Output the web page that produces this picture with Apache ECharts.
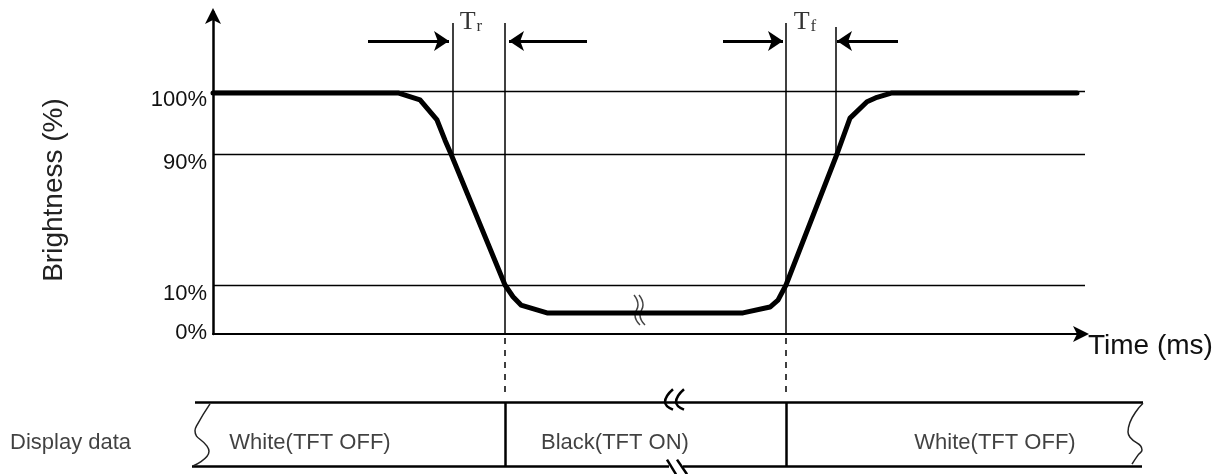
<!DOCTYPE html>
<html>
<head>
<meta charset="utf-8">
<script src="https://cdn.jsdelivr.net/npm/echarts@6/dist/echarts.min.js"></script>
<style>
  html, body { margin: 0; padding: 0; background: #fff; }
  #chart { width: 1218px; height: 474px; }
</style>
</head>
<body>
<div id="chart"></div>
<script>
var myChart = echarts.init(document.getElementById('chart'));

// brightness response (time in schematic units, brightness in %)
var timeX = [0, 185, 207, 224, 232, 238, 292, 300, 308, 334, 530, 557, 565, 573, 624, 637, 654, 664, 679, 864];
var brightnessPct = [99.7, 99.7, 98.6, 95.4, 92.2, 90, 10, 7.6, 5.9, 4.3, 4.3, 5.5, 6.9, 10, 90, 95.7, 98.3, 99.0, 99.7, 99.7];

// the brightness axis is schematic (not linear): each level has its place on the drawing
var levelPct = [0, 10, 90, 100];
var levelPos = [0, 49, 180, 243];
var yTickLabels = ['0%', '10%', '90%', '100%'];

// Tr / Tf edges on the time axis
var trEdges = [240, 292];
var tfEdges = [573, 623];
var timeNames = [['T', 'r'], ['T', 'f']];

// display data row
var segEdges = [292, 573];
var segNames = ['White(TFT OFF)', 'Black(TFT ON)', 'White(TFT OFF)'];
var rowName = 'Display data';

var xEnd = 872;
var yTop = 322;
var font = '"Liberation Sans", Arial, sans-serif';

function toPos(p) {
	for (var i = 1; i < levelPct.length; i++) {
		if (p <= levelPct[i]) {
			var f = (p - levelPct[i - 1]) / (levelPct[i] - levelPct[i - 1]);
			return levelPos[i - 1] + f * (levelPos[i] - levelPos[i - 1]);
		}
	}
	return levelPos[levelPos.length - 1];
}

var curve = [];
for (var i = 0; i < timeX.length; i++) {
	curve.push([timeX[i], toPos(brightnessPct[i])]);
}

var levelLines = [];
for (var i = 1; i < levelPct.length; i++) {
	levelLines.push({ coords: [[0, toPos(levelPct[i])], [xEnd, toPos(levelPct[i])]] });
}

var edgeTop = 311;
var solidEdges = [
	{ coords: [[trEdges[0], edgeTop], [trEdges[0], toPos(90)]] },
	{ coords: [[trEdges[1], edgeTop], [trEdges[1], 0]] },
	{ coords: [[tfEdges[0], edgeTop], [tfEdges[0], 0]] },
	{ coords: [[tfEdges[1], edgeTop - 4], [tfEdges[1], toPos(90)]] }
];
var dashedEdges = [
	{ coords: [[trEdges[1], -4], [trEdges[1], -62]] },
	{ coords: [[tfEdges[0], -4], [tfEdges[0], -62]] }
];
var arrowY = 293;
var arrows = [
	{ coords: [[trEdges[0] - 85, arrowY], [trEdges[0] - 4, arrowY]] },
	{ coords: [[trEdges[1] + 82, arrowY], [trEdges[1] + 4, arrowY]] },
	{ coords: [[tfEdges[0] - 63, arrowY], [tfEdges[0] - 3, arrowY]] },
	{ coords: [[tfEdges[1] + 62, arrowY], [tfEdges[1] + 1, arrowY]] }
];

var breakA = [[421, 39], [425, 29], [422, 19], [427, 9]];
var breakB = [[426, 39], [430, 29], [427, 19], [432, 9]];

// display row shapes (x in same units, y from 0 bottom to 1 top)
var boxLines = [
	{ coords: [[-18, 1], [930, 1]] },
	{ coords: [[-21, 0], [456, 0]] },
	{ coords: [[470, 0], [929, 0]] },
	{ coords: [[segEdges[0], 0], [segEdges[0], 1]] },
	{ coords: [[segEdges[1], 0], [segEdges[1], 1]] },
	{ coords: [[454, 0.1], [463, -0.13]] },
	{ coords: [[464, 0.1], [474, -0.13]] }
];
var leftWave = [[-3, 0.97], [-16, 0.64], [-18, 0.55], [-6, 0.31], [-4, 0.23], [-20, 0]];
var rightWave = [[930, 0.98], [915, 0.53], [917, 0.45], [929, 0.25], [925, 0.17], [919, 0.03]];
var chevronA = [[460, 1.2], [452, 1.0], [460, 0.88]];
var chevronB = [[471, 1.2], [463, 1.0], [471, 0.88]];

var labelX = [97, 402, 782];
var textData = [];
for (var i = 0; i < segNames.length; i++) {
	textData.push({ value: [labelX[i], 0.36], name: segNames[i] });
}

var timeLabelX = [258, 592];
var timeLabels = [];
for (var i = 0; i < timeNames.length; i++) {
	timeLabels.push({ value: [timeLabelX[i], 312], name: '{t|' + timeNames[i][0] + '}{s|' + timeNames[i][1] + '}' });
}

function lines(data, xi, opts) {
	var s = {
		type: 'lines',
		coordinateSystem: 'cartesian2d',
		xAxisIndex: xi,
		yAxisIndex: xi,
		polyline: false,
		clip: false,
		silent: true,
		symbol: 'none',
		lineStyle: { color: '#000', width: 1.3, opacity: 1, curveness: 0 },
		data: data
	};
	for (var k in opts) s[k] = opts[k];
	return s;
}

function wave(data, xi, width, color) {
	return {
		type: 'line',
		xAxisIndex: xi,
		yAxisIndex: xi,
		data: data,
		smooth: true,
		clip: false,
		symbol: 'none',
		silent: true,
		lineStyle: { color: color || '#000', width: width }
	};
}

var option = {
	animation: false,
	backgroundColor: '#fff',
	grid: [
		{ left: 213, right: 1218 - 213 - xEnd, top: 12, height: yTop },
		{ left: 0, right: 0, top: 402, height: 64 }
	],
	xAxis: [{
		type: 'value',
		gridIndex: 0,
		min: 0,
		max: xEnd,
		name: 'Time (ms)',
		nameLocation: 'end',
		nameGap: 3,
		nameTextStyle: { fontFamily: font, fontSize: 28, color: '#111', verticalAlign: 'top', padding: [-2, 0, 0, 0] },
		axisLine: { show: true, symbol: ['none', 'arrow'], symbolSize: [12, 16], symbolOffset: [0, 4], lineStyle: { color: '#000', width: 2 } },
		axisTick: { show: false },
		axisLabel: { show: false },
		splitLine: { show: false }
	}, {
		type: 'value',
		gridIndex: 1,
		min: -213,
		max: 1005,
		show: false
	}],
	yAxis: [{
		type: 'value',
		gridIndex: 0,
		min: 0,
		max: yTop,
		name: 'Brightness (%)',
		nameLocation: 'middle',
		nameRotate: 90,
		nameGap: 145,
		nameTextStyle: { fontFamily: font, fontSize: 28, color: '#222', padding: [0, 34, 0, 0] },
		axisLine: { show: true, symbol: ['none', 'arrow'], symbolSize: [12, 16], symbolOffset: [0, 4], lineStyle: { color: '#000', width: 2.5 } },
		axisTick: { show: false },
		splitLine: { show: false },
		axisLabel: {
			show: true,
			customValues: levelPos,
			margin: 6,
			fontFamily: font,
			fontSize: 22,
			color: '#111',
			formatter: function(v) {
				var idx = levelPos.indexOf(v);
				var txt = idx >= 0 ? yTickLabels[idx] : '';
				return idx === 0 ? '{z|' + txt + '}' : '{d|' + txt + '}';
			},
			rich: {
				z: { fontFamily: font, fontSize: 22, color: '#111', padding: [0, 0, 2, 0] },
				d: { fontFamily: font, fontSize: 22, color: '#111', padding: [18, 0, 0, 0] }
			}
		}
	}, {
		type: 'value',
		gridIndex: 1,
		min: 0,
		max: 1,
		show: false
	}],
	series: [
		lines(levelLines, 0, {}),
		lines(solidEdges, 0, { lineStyle: { color: '#000', width: 1.5, opacity: 1 } }),
		lines(dashedEdges, 0, { lineStyle: { color: '#000', width: 1.5, type: [6, 6], opacity: 1 } }),
		lines(arrows, 0, { symbol: ['none', 'arrow'], symbolSize: 15, lineStyle: { color: '#000', width: 3, opacity: 1 } }),
		{
			type: 'line',
			xAxisIndex: 0,
			yAxisIndex: 0,
			data: curve,
			symbol: 'none',
			silent: true,
			z: 5,
			lineStyle: { color: '#000', width: 5, join: 'round', cap: 'round' }
		},
		wave(breakA, 0, 1.5, '#444'),
		wave(breakB, 0, 1.5, '#444'),
		{
			type: 'scatter',
			xAxisIndex: 0,
			yAxisIndex: 0,
			symbolSize: 0,
			silent: true,
			data: timeLabels,
			label: {
				show: true,
				position: 'inside',
				formatter: function(p) { return p.name; },
				rich: {
					t: { fontFamily: '"Liberation Serif", "DejaVu Serif", serif', fontSize: 26, color: '#000' },
					s: { fontFamily: '"Liberation Serif", "DejaVu Serif", serif', fontSize: 17, color: '#000', padding: [10, 0, 0, 1] }
				}
			}
		},
		lines(boxLines, 1, { lineStyle: { color: '#000', width: 2.5, opacity: 1 } }),
		wave(leftWave, 1, 1.5, '#222'),
		wave(rightWave, 1, 1.5, '#222'),
		wave(chevronA, 1, 2.5, '#000'),
		wave(chevronB, 1, 2.5, '#000'),
		{
			type: 'scatter',
			xAxisIndex: 1,
			yAxisIndex: 1,
			symbolSize: 0,
			silent: true,
			data: textData.concat([{ value: [-203, 0.36], name: rowName, label: { position: 'right', distance: 0 } }]),
			label: {
				show: true,
				position: 'inside',
				fontFamily: font,
				fontSize: 22,
				color: '#111',
				formatter: function(p) { return p.name; }
			}
		}
	]
};

myChart.setOption(option);
</script>
</body>
</html>
